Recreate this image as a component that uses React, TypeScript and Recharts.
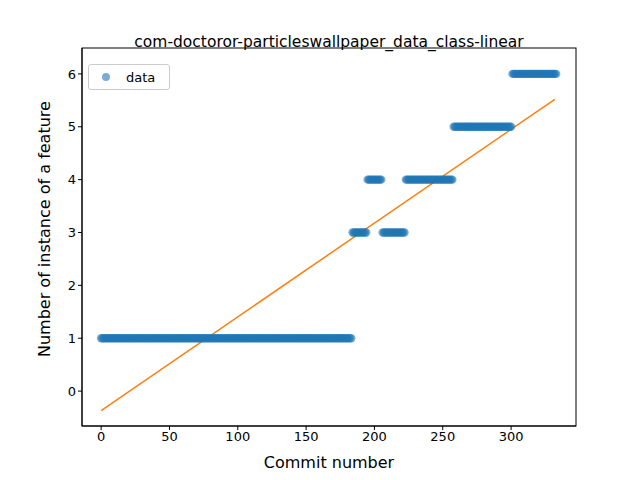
import React from "react";
import { ComposedChart, Scatter, Line, XAxis, YAxis } from "recharts";

// runs of equal values: [first commit, last commit, value]
const runs: [number, number, number][] = [
  [0, 183, 1],
  [184, 194, 3],
  [195, 205, 4],
  [206, 222, 3],
  [223, 257, 4],
  [258, 300, 5],
  [301, 333, 6],
];

const points: { x: number; y: number }[] = [];
runs.forEach(([a, b, v]) => {
  for (let i = a; i <= b; i++) points.push({ x: i, y: v });
});

const fitX = [0, 332];
const fitY = [-0.37, 5.52];
const fit = fitX.map((x, i) => ({ x, y: fitY[i] }));

const xTicks = [0, 50, 100, 150, 200, 250, 300];
const yTicks = [0, 1, 2, 3, 4, 5, 6];

const font = "DejaVu Sans";

const Dot = (props: any) => (
  <circle cx={props.cx} cy={props.cy} r={4.2} fill="#1f77b4" fillOpacity={0.6} />
);

export default function App() {
  return (
    <div style={{ position: "relative", width: 640, height: 480, margin: -8, background: "#fff", fontFamily: font }}>
      <div style={{ position: "absolute", top: 33, left: 82, width: 494, textAlign: "center", fontSize: 15.5 }}>
        com-doctoror-particleswallpaper_data_class-linear
      </div>
      <ComposedChart width={640} height={480} margin={{ top: 48, right: 64, bottom: 0, left: 0 }}>
        <XAxis
          type="number"
          dataKey="x"
          domain={[-14, 347.5]}
          ticks={xTicks}
          height={54}
          tickSize={4}
          stroke="#000"
          tick={{ fill: "#000", fontSize: 13, fontFamily: font }}
          label={{ value: "Commit number", position: "insideBottom", offset: 12, fill: "#000", fontSize: 16, fontFamily: font }}
          allowDataOverflow
        />
        <YAxis
          type="number"
          dataKey="y"
          domain={[-0.66, 6.49]}
          ticks={yTicks}
          width={82}
          tickSize={4}
          stroke="#000"
          tick={{ fill: "#000", fontSize: 13, fontFamily: font }}
          label={{ value: "Number of instance of a feature", angle: -90, position: "insideLeft", offset: 44, dy: 120, fill: "#000", fontSize: 16, fontFamily: font }}
          allowDataOverflow
        />
        <Scatter data={points} dataKey="y" shape={<Dot />} isAnimationActive={false} />
        <Line data={fit} dataKey="y" stroke="#ff7f0e" strokeWidth={1.5} dot={false} isAnimationActive={false} />
        <rect x={82} y={48} width={494} height={378} fill="none" stroke="#000" />
      </ComposedChart>
      <div style={{ position: "absolute", left: 88, top: 64, width: 80, height: 24, border: "1px solid #ccc", borderRadius: 3, background: "#fff", display: "flex", alignItems: "center", fontSize: 13 }}>
        <span style={{ width: 8, height: 8, borderRadius: 4, background: "#1f77b4", opacity: 0.6, marginLeft: 13, marginRight: 16 }} />
        data
      </div>
    </div>
  );
}
